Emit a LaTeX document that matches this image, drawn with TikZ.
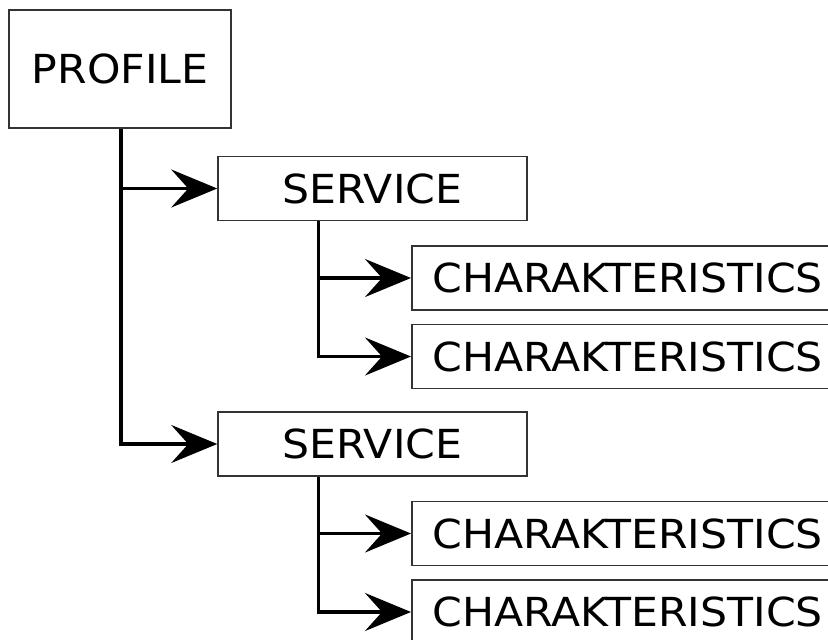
\documentclass[tikz,border=0pt]{standalone}
\usepackage{fontspec}
\setmainfont[FakeStretch=1.065]{DejaVu Sans}
\usetikzlibrary{arrows.meta,positioning}
\tikzset{
  box/.style={draw=black!80,line width=1.5pt,inner sep=0pt,font=\fontsize{40}{40}\selectfont},
  service/.style={box,minimum width=309pt,minimum height=64pt},
  charbox/.style={box,anchor=west,minimum height=64pt,text width=440pt,inner xsep=21pt,align=left},
  link/.style={line width=3.2pt,-{Stealth[length=46pt,width=38pt,inset=17pt]}},
}
\begin{document}
\begin{tikzpicture}[x=1pt,y=-1pt]
\def\W{828}
\def\H{640}
\useasboundingbox (0,0) rectangle (\W,\H);
\clip (0,0) rectangle (\W,\H);
\node[box,minimum width=222pt,minimum height=118pt] (profile) at (120,69) {PROFILE};
\foreach \s/\y in {1/188.5,2/444} {
	\node[service] (service\s) at (372.5,\y) {SERVICE};
	\draw[link] ([xshift=1pt]profile.south) |- (service\s.west);
	\foreach \c/\d in {1/89.5,2/168} {
		\node[charbox] (char\s\c) at (411,\y+\d) {CHARAKTERISTICS};
		\draw[link] ([xshift=-54pt]service\s.south) |- (char\s\c.west);
	}
}
\end{tikzpicture}
\end{document}
